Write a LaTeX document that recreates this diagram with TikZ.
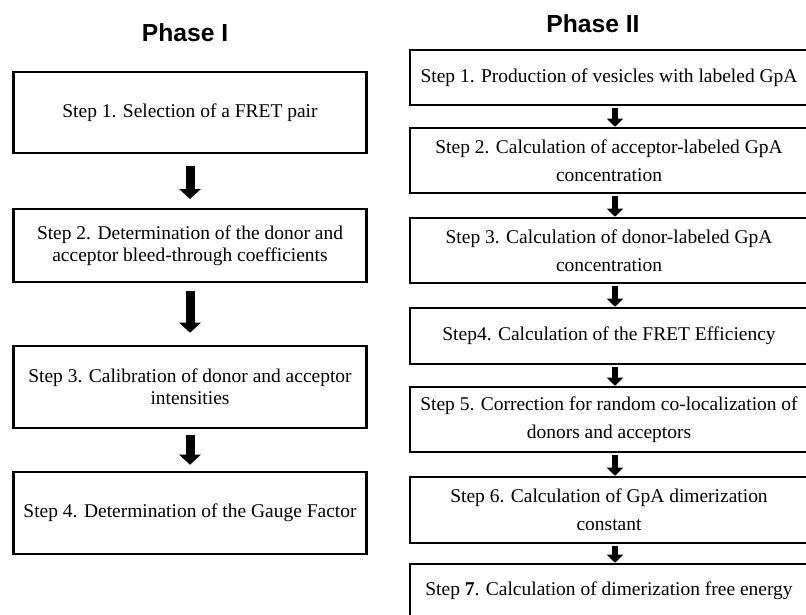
\documentclass[tikz,border=0pt]{standalone}
\usepackage{fontspec}
\setmainfont{Liberation Serif}
\newfontfamily\headfont{Liberation Sans}
\usetikzlibrary{arrows.meta}

\begin{document}
\begin{tikzpicture}[x=0.75pt, y=-0.75pt,
    box/.style={draw, line width=1.9pt, rectangle, align=center, inner sep=0pt,
        font=\fontsize{14.6}{16.5}\selectfont},
    boxone/.style={box, minimum width=265pt},
    boxtwo/.style={box, minimum width=298.5pt, font=\fontsize{14.6}{20.8}\selectfont},
    head/.style={font=\headfont\bfseries\fontsize{18.5}{22}\selectfont},
    heavy/.style={line width=6.75pt, -{Triangle[width=15.75pt, length=7.5pt]}},
    light/.style={line width=4.9pt, -{Triangle[width=12pt, length=6pt]}},
    ]
    \useasboundingbox (0,0) rectangle (806,614);
    \clip (0,0) rectangle (806,614);

    % phase I
    \node[head] (h1) at (185,33) {Phase I};
    \node[boxone, minimum height=60.75pt] (s1) at (190,112.5) {Step 1. Selection of a FRET pair};
    \node[boxone, minimum height=54.75pt] (s2) at (190,245.5) {Step 2. Determination of the donor and\\acceptor bleed-through coefficients};
    \node[boxone, minimum height=61.5pt] (s3) at (190,387) {Step 3. Calibration of donor and acceptor\\intensities};
    \node[boxone, minimum height=61.5pt] (s4) at (190,513) {Step 4. Determination of the Gauge Factor};
    \draw[heavy, shorten <=9pt, shorten >=6.5pt] (s1) to (s2);
    \draw[heavy, shorten <=6pt, shorten >=9pt] (s2) to (s3);
    \draw[heavy, shorten <=4.5pt, shorten >=4.5pt] (s3) to (s4);

    % phase II
    \node[head] (h2) at (593,24) {Phase II};
    \node[boxtwo, minimum height=41.25pt] (t1) at (609,77.5) {Step 1. Production of vesicles with labeled GpA};
    \node[boxtwo, minimum height=48.75pt] (t2) at (609,160.5) {Step 2. Calculation of acceptor-labeled GpA\\concentration};
    \node[boxtwo, minimum height=48.75pt] (t3) at (609,250.5) {Step 3. Calculation of donor-labeled GpA\\concentration};
    \node[boxtwo, minimum height=42pt] (t4) at (609,336) {Step4. Calculation of the FRET Efficiency};
    \node[boxtwo, minimum height=48.75pt] (t5) at (609,419.5) {Step 5. Correction for random co-localization of\\donors and acceptors};
    \node[boxtwo, minimum height=49.5pt] (t6) at (609,510) {Step 6. Calculation of GpA dimerization\\constant};
    \node[boxtwo, minimum height=40.5pt] (t7) at (609,591) {Step \textbf{7}. Calculation of dimerization free energy};
    \draw[light, shorten <=1.5pt] ([xshift=4.5pt]t1.south) to ([xshift=4.5pt]t2.north);
    \draw[light, shorten <=1.5pt] ([xshift=4.5pt]t2.south) to ([xshift=4.5pt]t3.north);
    \draw[light, shorten <=1.5pt] ([xshift=4.5pt]t3.south) to ([xshift=4.5pt]t4.north);
    \draw[light, shorten <=1.5pt] ([xshift=4.5pt]t4.south) to ([xshift=4.5pt]t5.north);
    \draw[light, shorten <=1.5pt] ([xshift=4.5pt]t5.south) to ([xshift=4.5pt]t6.north);
    \draw[light, shorten <=1.5pt] ([xshift=4.5pt]t6.south) to ([xshift=4.5pt]t7.north);
\end{tikzpicture}
\end{document}
